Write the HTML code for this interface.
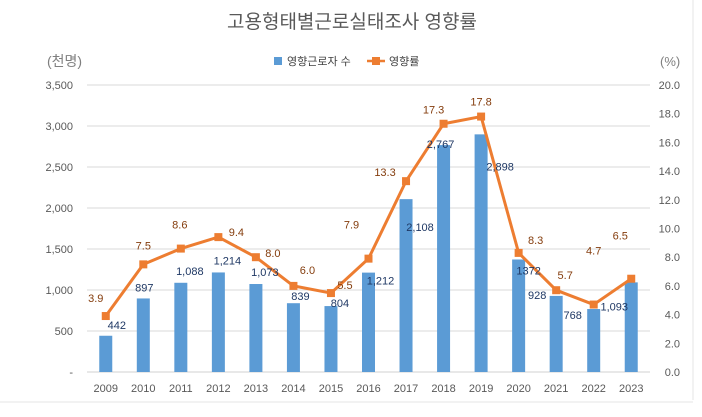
<!DOCTYPE html>
<html><head><meta charset="utf-8"><style>
body{margin:0;background:#fff;}
svg text{font-family:"Liberation Sans","Noto Sans CJK KR",sans-serif;}
</style></head><body>
<svg id="c" width="702" height="412">
<text x="352" y="28" text-anchor="middle" font-size="19" fill="#595959">고용형태별근로실태조사  영향률</text>
<text x="47" y="66" font-size="14" fill="#7f7f7f">(천명)</text>
<text x="660" y="66" font-size="13" fill="#7f7f7f">(%)</text>
<g>
<rect x="274" y="57" width="8" height="8" fill="#5b9bd5"/>
<text x="287" y="65" font-size="11" fill="#404040">영향근로자 수</text>
<line x1="367" y1="61" x2="385" y2="61" stroke="#ed7d31" stroke-width="2.5"/>
<rect x="372" y="57" width="8" height="8" fill="#ed7d31"/>
<text x="389" y="65" font-size="11" fill="#404040">영향률</text>
</g>
<line x1="693" y1="0" x2="693" y2="400" stroke="#e6e6e6"/>
<line x1="0" y1="402" x2="693" y2="402" stroke="#e6e6e6"/>
<g id="g"></g>
</svg>
<script>
const years=["2009","2010","2011","2012","2013","2014","2015","2016","2017","2018","2019","2020","2021","2022","2023"];
const workers=[442,897,1088,1214,1073,839,804,1212,2108,2767,2898,1372,928,768,1093];
const workerLabels=["442","897","1,088","1,214","1,073","839","804","1,212","2,108","2,767","2,898","1372","928","768","1,093"];
const rates=[3.9,7.5,8.6,9.4,8.0,6.0,5.5,7.9,13.3,17.3,17.8,8.3,5.7,4.7,6.5];
const leftTicks=[0,500,1000,1500,2000,2500,3000,3500];
const leftTickLabels=["-","500","1,000","1,500","2,000","2,500","3,000","3,500"];
const rightTicks=[0,2,4,6,8,10,12,14,16,18,20];
// label placement offsets (styling, px)
const barDx=[11,1,9,9,9,7,9,12,14,-3,19,10,-19,-21,-17];
const barDy=[-7,-7,-8,-8,-8,-3,1,12,32,3,36,15,3,10,28];
const rateDx=[-10,0,-1,18,17,14,14,-17,-21,-10,0,17,9,0,-11];
const rateDy=[-14,-15,-20,-1,0,-12,-4,-30,-5,-10,-11,-9,-11,-50,-39];
const L=87,R=650,T=85,B=372;
const n=years.length,bw=(R-L)/n;
const xc=i=>L+bw*(i+0.5);
const yl=v=>B-(v/3500)*(B-T);
const yr=v=>B-(v/20)*(B-T);
const g=document.getElementById('g');
const NS='http://www.w3.org/2000/svg';
function mk(t,a,txt){const e=document.createElementNS(NS,t);for(const k in a)e.setAttribute(k,a[k]);if(txt!==undefined)e.textContent=txt;g.appendChild(e);return e;}
leftTicks.forEach((v,i)=>{
 const ln=mk('line',{x1:L,x2:R,y1:yl(v),y2:yl(v),stroke:i==0?'#d0d0d0':'#d9d9d9'});
 
 
 const t=mk('text',{x:73,y:yl(v)+4,'text-anchor':'end','font-size':11,fill:'#595959'},leftTickLabels[i]);
 
 
});
rightTicks.forEach(v=>{
 const t=mk('text',{x:680,y:yr(v)+4,'text-anchor':'end','font-size':11,fill:'#595959'},v.toFixed(1));
 
 
});
years.forEach((y,i)=>{
 const t=mk('text',{x:xc(i),y:392,'text-anchor':'middle','font-size':11,fill:'#595959'},y);
 
 
});
workers.forEach((v,i)=>{
 const r=mk('rect',{x:xc(i)-6.5,y:yl(v),width:13,height:B-yl(v),fill:'#5b9bd5'});
 
 
});
const pts=rates.map((v,i)=>xc(i)+','+yr(v)).join(' ');
const pl=mk('polyline',{points:pts,fill:'none',stroke:'#ed7d31','stroke-width':3,'stroke-linejoin':'round'});


rates.forEach((v,i)=>{
 const m=mk('rect',{x:xc(i)-4,y:yr(v)-4,width:8,height:8,fill:'#ed7d31'});
 
 
});
workers.forEach((v,i)=>{
 const t=mk('text',{x:xc(i)+barDx[i],y:yl(v)+barDy[i],'text-anchor':'middle','font-size':11,fill:'#1f3864'},workerLabels[i]);
 
 
});
rates.forEach((v,i)=>{
 const t=mk('text',{x:xc(i)+rateDx[i],y:yr(v)+rateDy[i],'text-anchor':'middle','font-size':11,fill:'#843c0c'},v.toFixed(1));
 
 
});
</script>
</body></html>
